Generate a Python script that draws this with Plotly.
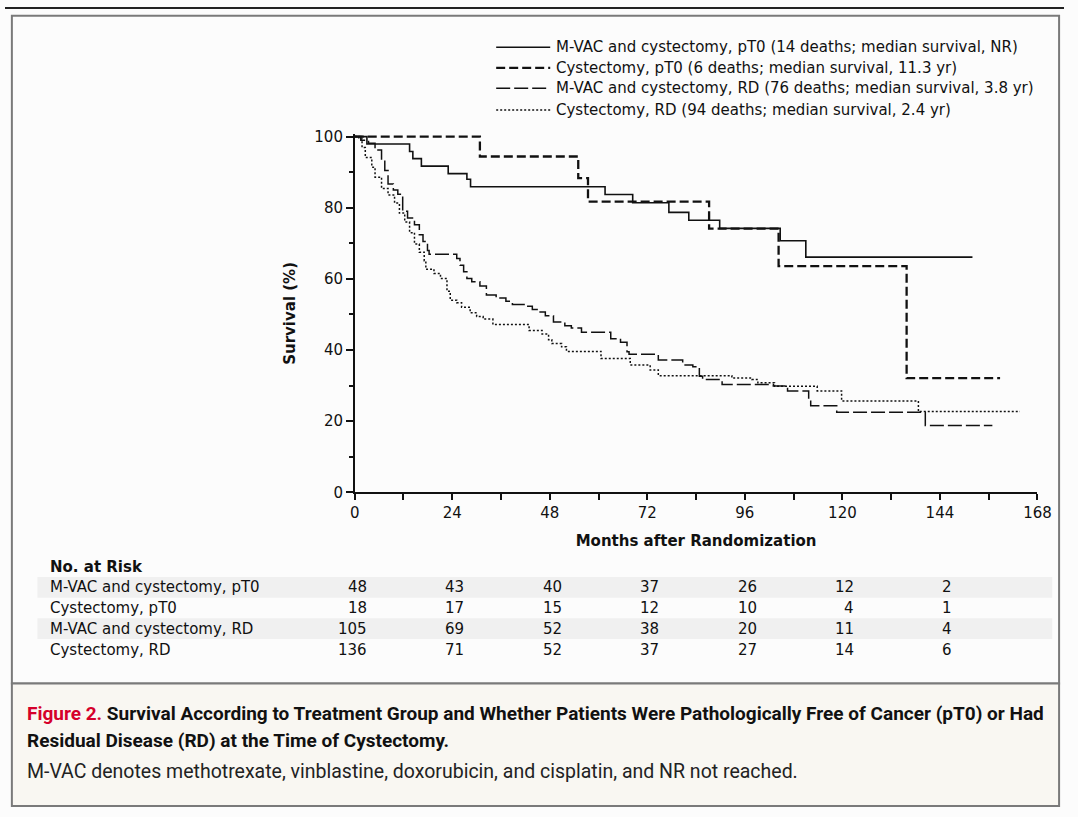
import plotly.graph_objects as go

# Kaplan-Meier step data (months, % surviving)
mvac_pt0_t = [0, 3, 13.5, 14.3, 16.4, 23, 27.6, 28.5, 61.6, 68.4, 77.3, 82.2, 89.8, 104.7, 111, 152]
mvac_pt0_s = [100, 97.9, 95.8, 93.8, 91.7, 89.6, 88.0, 85.9, 83.7, 81.4, 78.7, 76.5, 74.2, 70.7, 66.1, 66.1]

cyst_pt0_t = [0, 30.8, 55, 57.4, 87.2, 104.3, 135.8, 158.8]
cyst_pt0_s = [100, 94.4, 88.3, 81.7, 74.1, 63.6, 32.1, 32.1]

mvac_rd_t = [0, 1.5, 3.4, 5.0, 6.6, 7.4, 8.2, 9.5, 10.6, 11.8, 13.0, 14.7, 15.9, 16.8, 17.9, 18.3,
             25.1, 25.9, 26.8, 27.6, 28.8, 30.8, 32.4, 34.8, 37.2, 38.8, 42.1, 43.7, 45.3, 46.9,
             48.9, 51.7, 53.3, 55.8, 63.0, 65.4, 67.0, 67.5, 74.7, 80.7, 83.2, 84.8, 85.6, 90.4,
             103.0, 106.5, 111.7, 112.2, 118.6, 140.4, 156.9]
mvac_rd_s = [100, 99.0, 98.1, 96.2, 93.3, 90.5, 86.7, 85.0, 83.8, 79.0, 77.1, 75.2, 72.4, 70.5, 68.0, 66.9,
             65.7, 63.8, 62.0, 60.1, 59.2, 58.0, 55.5, 54.6, 53.7, 52.8, 52.3, 51.4, 50.7, 49.6,
             47.9, 46.8, 46.2, 45.0, 43.2, 42.2, 39.5, 38.8, 37.2, 35.8, 35.3, 32.6, 31.7, 30.3,
             29.9, 28.5, 26.2, 24.3, 22.5, 18.8, 18.8]

cyst_rd_t = [0, 1.0, 1.8, 2.6, 4.2, 5.0, 6.6, 8.2, 9.8, 11.0, 12.3, 13.5, 14.7, 15.9, 17.1, 17.5,
             19.5, 21.1, 22.7, 23.5, 25.1, 26.3, 28.4, 30.0, 31.6, 34.0, 42.9, 46.1, 47.7, 48.5,
             50.9, 52.1, 60.6, 67.8, 72.7, 74.7, 92.8, 97.7, 99.2, 103.3, 113.8, 119.8, 138.7, 163.7]
cyst_rd_s = [100, 99.3, 96.9, 94.1, 91.4, 88.6, 85.4, 83.6, 81.3, 78.5, 76.0, 73.0, 69.8, 67.5, 65.1, 62.7,
             61.5, 60.1, 56.5, 54.0, 53.3, 52.0, 50.5, 49.4, 48.7, 47.2, 45.5, 44.5, 42.9, 41.8,
             40.9, 39.6, 37.6, 35.8, 34.4, 32.8, 32.1, 31.7, 30.8, 29.8, 28.5, 25.7, 22.7, 22.7]

legend_names = [
    "M-VAC and cystectomy, pT0 (14 deaths; median survival, NR)",
    "Cystectomy, pT0 (6 deaths; median survival, 11.3 yr)",
    "M-VAC and cystectomy, RD (76 deaths; median survival, 3.8 yr)",
    "Cystectomy, RD (94 deaths; median survival, 2.4 yr)",
]

# Number at risk table
risk_months = [0, 24, 48, 72, 96, 120, 144]
risk_groups = ["M-VAC and cystectomy, pT0", "Cystectomy, pT0", "M-VAC and cystectomy, RD", "Cystectomy, RD"]
risk_counts = [
    [48, 43, 40, 37, 26, 12, 2],
    [18, 17, 15, 12, 10, 4, 1],
    [105, 69, 52, 38, 20, 11, 4],
    [136, 71, 52, 37, 27, 14, 6],
]

W, H = 1078, 817
BODY = "DejaVu Sans, sans-serif"
BODY_SIZE = 15
CAP = "Roboto, sans-serif"


def px(x):
    return x / W


def py(y):
    return 1 - y / H


styles = [
    dict(color="#111111", width=1.6, dash="solid"),
    dict(color="#111111", width=2.3, dash="9px,4px"),
    dict(color="#111111", width=1.5, dash="14px,4px"),
    dict(color="#111111", width=1.5, dash="2px,2px"),
]
series = [(mvac_pt0_t, mvac_pt0_s), (cyst_pt0_t, cyst_pt0_s), (mvac_rd_t, mvac_rd_s), (cyst_rd_t, cyst_rd_s)]

fig = go.Figure()
for (t, s), st, name in zip(series, styles, legend_names):
    fig.add_trace(go.Scatter(
        x=t, y=s, mode="lines", name=name, line=dict(shape="hv", **st),
        hoverinfo="skip", showlegend=False,
    ))

shapes = [
    # page frame
    dict(type="line", xref="paper", yref="paper", x0=0, x1=1, y0=py(1), y1=py(1),
         line=dict(color="#222222", width=2)),
    dict(type="rect", xref="paper", yref="paper", x0=px(7), x1=px(1073), y0=py(690), y1=py(9),
         line=dict(color="#7a7a7a", width=2), fillcolor="#fcfcfc", layer="below"),
    dict(type="rect", xref="paper", yref="paper", x0=px(7), x1=px(1073), y0=py(815), y1=py(690),
         line=dict(color="#7a7a7a", width=2), fillcolor="#f9f7f2", layer="below"),
]
# alternating bands behind the at-risk rows
row_y = [592, 613, 634, 656]
for k in (0, 2):
    shapes.append(dict(type="rect", xref="paper", yref="paper", x0=px(33), x1=px(1066),
                       y0=py(row_y[k] + 10.5), y1=py(row_y[k] - 10.5),
                       line=dict(width=0), fillcolor="#f0f0f0", layer="below"))

annotations = []

# key: line sample followed by its label
legend_y = [41, 62, 83, 105]
for st, name, ly in zip(styles, legend_names, legend_y):
    shapes.append(dict(type="line", xref="paper", yref="paper", x0=px(500), x1=px(555),
                       y0=py(ly), y1=py(ly), line=dict(color=st["color"], width=st["width"], dash=st["dash"])))
    annotations.append(dict(text=name, xref="paper", yref="paper", x=px(559), y=py(ly),
                            xanchor="left", yanchor="middle", showarrow=False,
                            font=dict(family=BODY, size=BODY_SIZE, color="#111")))

annotations.append(dict(text="<b>No. at Risk</b>", xref="paper", yref="paper", x=px(44), y=py(571),
                        xanchor="left", yanchor="middle", showarrow=False,
                        font=dict(family=BODY, size=BODY_SIZE, color="#111")))
for r, (grp, counts) in enumerate(zip(risk_groups, risk_counts)):
    annotations.append(dict(text=grp, xref="paper", yref="paper", x=px(44), y=py(row_y[r]),
                            xanchor="left", yanchor="middle", showarrow=False,
                            font=dict(family=BODY, size=BODY_SIZE, color="#111")))
    for m, c in zip(risk_months, counts):
        annotations.append(dict(text=str(c), xref="x", yref="paper", x=m, y=py(row_y[r]),
                                xanchor="right", yanchor="middle", xshift=14, showarrow=False,
                                font=dict(family=BODY, size=BODY_SIZE, color="#111")))

# figure caption
annotations += [
    dict(text="<span style='color:#d5002b'>Figure 2.</span> Survival According to Treatment Group and Whether "
              "Patients Were Pathologically Free of Cancer (pT0) or Had",
         xref="paper", yref="paper", x=px(20), y=py(721), xanchor="left", yanchor="middle",
         showarrow=False, font=dict(family=CAP, size=19, color="#111", weight="bold")),
    dict(text="Residual Disease (RD) at the Time of Cystectomy.",
         xref="paper", yref="paper", x=px(20), y=py(748), xanchor="left", yanchor="middle",
         showarrow=False, font=dict(family=CAP, size=19, color="#111", weight="bold")),
    dict(text="M-VAC denotes methotrexate, vinblastine, doxorubicin, and cisplatin, and NR not reached.",
         xref="paper", yref="paper", x=px(20), y=py(780), xanchor="left", yanchor="middle",
         showarrow=False, font=dict(family=CAP, size=19.5, color="#222")),
]

fig.update_layout(
    autosize=True, margin=dict(l=0, r=0, t=0, b=0),
    paper_bgcolor="#fcfcfc", plot_bgcolor="rgba(0,0,0,0)",
    font=dict(family=BODY, size=BODY_SIZE, color="#111"),
    showlegend=False,
    shapes=shapes, annotations=annotations,
    xaxis=dict(
        domain=[px(356), px(1051)], range=[0, 168], tickvals=[0, 24, 48, 72, 96, 120, 144, 168],
        showline=True, linecolor="#111", linewidth=1.5, showgrid=False, zeroline=False,
        ticks="outside", ticklen=6, tickwidth=1.5, tickcolor="#111",
        minor=dict(dtick=12, tick0=0, ticks="outside", ticklen=6, tickwidth=1.5, tickcolor="#111", showgrid=False),
        tickfont=dict(family=BODY, size=BODY_SIZE),
        title=dict(text="<b>Months after Randomization</b>", font=dict(family=BODY, size=BODY_SIZE), standoff=14),
    ),
    yaxis=dict(
        domain=[py(495), py(130)], range=[0, 100.6], tickvals=[0, 20, 40, 60, 80, 100],
        showline=True, linecolor="#111", linewidth=1.5, showgrid=False, zeroline=False,
        ticks="outside", ticklen=7, tickwidth=1.5, tickcolor="#111",
        minor=dict(dtick=10, tick0=0, ticks="outside", ticklen=4, tickwidth=1.5, tickcolor="#111", showgrid=False),
        tickfont=dict(family=BODY, size=BODY_SIZE),
        title=dict(text="<b>Survival (%)</b>", font=dict(family=BODY, size=BODY_SIZE), standoff=15),
    ),
)

# pin the figure div to the top-left corner of the page at the full window size
fig.write_html(
    "out.html",
    default_width=f"{W}px; position:absolute; left:0; top:0",
    default_height=f"{H}px",
)
